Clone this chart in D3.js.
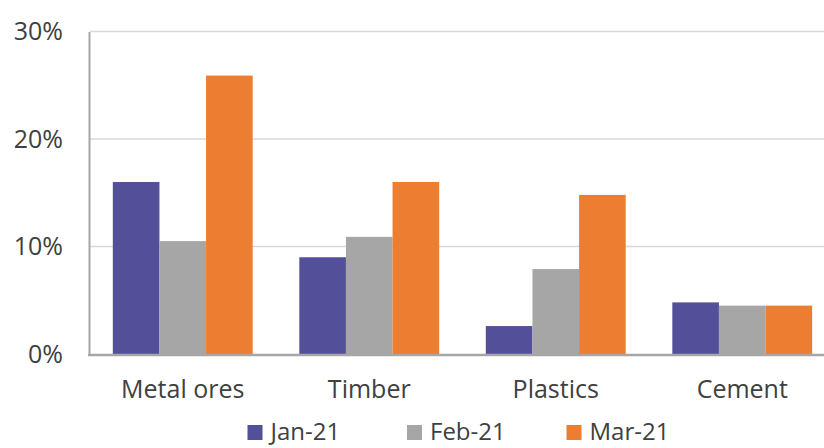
<!DOCTYPE html>
<html><head><meta charset="utf-8">
<script src="https://cdn.jsdelivr.net/npm/d3@7"></script>
<style>body{margin:0;background:#fff;overflow:hidden}svg{display:block}</style>
</head><body><svg id="c" width="824" height="448"></svg>
<script>
const categories = ["Metal ores","Timber","Plastics","Cement"];
const seriesNames = ["Jan-21","Feb-21","Mar-21"];
const jan = [16.0, 9.0, 2.6, 4.8];
const feb = [10.5, 10.9, 7.9, 4.5];
const mar = [25.9, 16.0, 14.8, 4.5];
const tickValues = [0,10,20,30];
const colors = ["#534f98","#a6a6a6","#ed7d31"];
const series = [jan, feb, mar];

const svg = d3.select("#c");
const font = "'Open Sans', sans-serif";
const x = d3.scaleBand().domain(categories).range([89.5, 835.5]).paddingInner(0.25).paddingOuter(0.125);
const x1 = d3.scaleBand().domain(seriesNames).range([0, x.bandwidth()]);
const y = d3.scaleLinear().domain([0,30]).range([354, 31.5]);

// gridlines
svg.append("g").selectAll("line").data(tickValues.filter(d=>d>0)).join("line")
  .attr("x1",90).attr("x2",824).attr("y1",d=>y(d)).attr("y2",d=>y(d))
  .attr("stroke","#d9d9d9").attr("stroke-width",1.5);

// bars
const g = svg.append("g");
series.forEach((vals,i)=>{
  g.append("g").selectAll("rect").data(vals).join("rect")
    .attr("x",(d,j)=>x(categories[j])+x1(seriesNames[i]))
    .attr("width",x1.bandwidth())
    .attr("y",d=>y(d)).attr("height",d=>y(0)-y(d))
    .attr("fill",colors[i]);
});

// axes
const yAxis = d3.axisLeft(y).tickValues(tickValues).tickFormat(d=>d+"%").tickSize(0).tickPadding(26);
const ya = svg.append("g").attr("transform","translate(89,0)").call(yAxis);
ya.select(".domain").attr("stroke","#a6a6a6").attr("stroke-width",2);
ya.selectAll("text").attr("font-family",font).attr("font-size",25).attr("fill","#404040");

const xAxis = d3.axisBottom(x).tickSize(0).tickPadding(25);
const xa = svg.append("g").attr("transform","translate(0,355)").call(xAxis);
xa.select(".domain").attr("stroke","#a6a6a6").attr("stroke-width",2.5).attr("d","M88,0H824");
xa.selectAll("text").attr("font-family",font).attr("font-size",25).attr("fill","#404040");

// legend
const legX = [247.5, 407, 566.5];
const leg = svg.append("g").selectAll("g").data(seriesNames).join("g")
  .attr("transform",(d,i)=>`translate(${legX[i]},425)`);
leg.append("rect").attr("width",15).attr("height",15).attr("fill",(d,i)=>colors[i]);
leg.append("text").attr("x",23).attr("y",15).text(d=>d)
  .attr("font-family",font).attr("font-size",24).attr("fill","#404040");
</script></body></html>
